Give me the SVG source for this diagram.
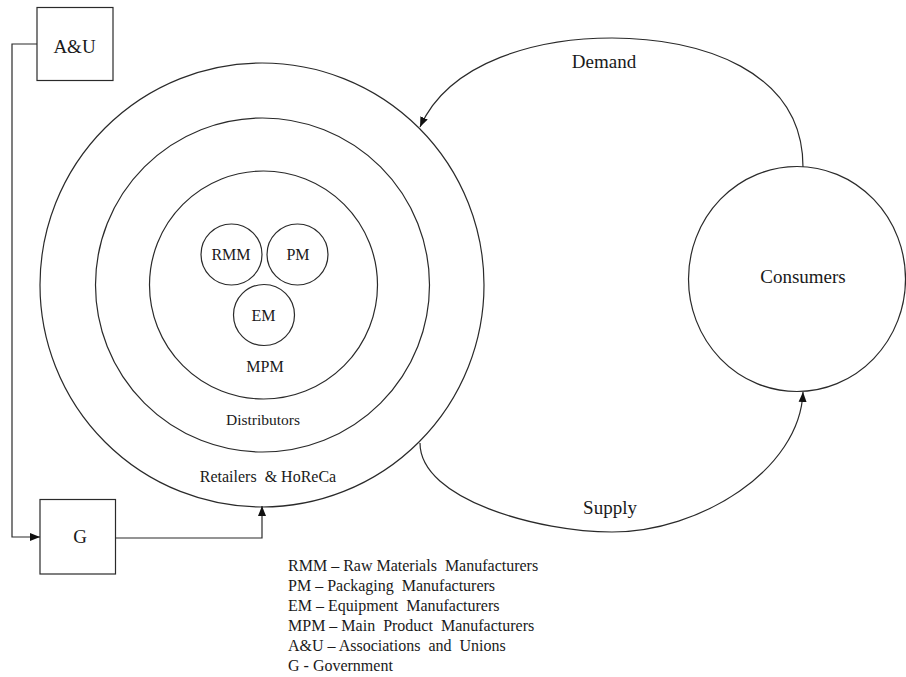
<svg xmlns="http://www.w3.org/2000/svg" width="906" height="677" viewBox="0 0 906 677">
<style>
.s{fill:none;stroke:#2a2a2a;stroke-width:1.2}
.t{font-family:"Liberation Serif","Times New Roman",serif;fill:#1a1a1a;text-anchor:middle}
.l{font-family:"Liberation Serif","Times New Roman",serif;fill:#1a1a1a;font-size:16px;white-space:pre}
</style>
<defs>
<marker id="ah" markerUnits="userSpaceOnUse" markerWidth="10" markerHeight="10" viewBox="0 0 10 10" refX="10" refY="5" orient="auto">
<path d="M0,1 L10,5 L0,9 Z" fill="#111"/>
</marker>
</defs>
<rect width="906" height="677" fill="#fff"/>
<g id="retailers">
<circle class="s" cx="262" cy="285" r="222"/>
<text class="t" x="268" y="482" font-size="16" style="white-space:pre">Retailers  &amp; HoReCa</text>
</g>
<g id="distributors">
<circle class="s" cx="262.5" cy="285" r="167"/>
<text class="t" x="263" y="425" font-size="15.5">Distributors</text>
</g>
<g id="mpm">
<circle class="s" cx="263.5" cy="285" r="114"/>
<text class="t" x="265" y="372" font-size="16">MPM</text>
</g>
<g id="rmm">
<circle class="s" cx="231.5" cy="254.5" r="30.5"/>
<text class="t" x="231" y="260" font-size="16">RMM</text>
</g>
<g id="pm">
<circle class="s" cx="297.5" cy="254.5" r="30.5"/>
<text class="t" x="298" y="260" font-size="16">PM</text>
</g>
<g id="em">
<circle class="s" cx="264" cy="315" r="30.5"/>
<text class="t" x="263.5" y="320.5" font-size="16">EM</text>
</g>
<g id="consumers">
<ellipse class="s" cx="797" cy="279" rx="108.5" ry="112.5"/>
<text class="t" x="803" y="283" font-size="19">Consumers</text>
</g>
<g id="au">
<rect class="s" x="37" y="7.5" width="76" height="73"/>
<text class="t" x="74.5" y="53" font-size="19">A&amp;U</text>
</g>
<g id="g">
<rect class="s" x="40" y="499.5" width="75.5" height="74.5"/>
<text class="t" x="80" y="543" font-size="19">G</text>
</g>
<g id="connectors">
<path class="s" d="M37,44 H12 V537 H40" marker-end="url(#ah)"/>
<path class="s" d="M115.5,538 H262 V506" marker-end="url(#ah)"/>
<path class="s" d="M803,167 C803,70 700,38 612,38 C540,38 450,60 420,127" marker-end="url(#ah)"/>
<path class="s" d="M420,443 C420,500 540,532 612,532 C700,532 800,470 803,392" marker-end="url(#ah)"/>
<text class="t" x="604" y="68" font-size="19">Demand</text>
<text class="t" x="610" y="514" font-size="19">Supply</text>
</g>
<g id="legend">
<text class="l" x="288" y="571">RMM – Raw Materials  Manufacturers</text>
<text class="l" x="288" y="591">PM – Packaging  Manufacturers</text>
<text class="l" x="288" y="611">EM – Equipment  Manufacturers</text>
<text class="l" x="288" y="631">MPM – Main  Product  Manufacturers</text>
<text class="l" x="288" y="651">A&amp;U – Associations  and  Unions</text>
<text class="l" x="288" y="671">G - Government</text>
</g>
</svg>
